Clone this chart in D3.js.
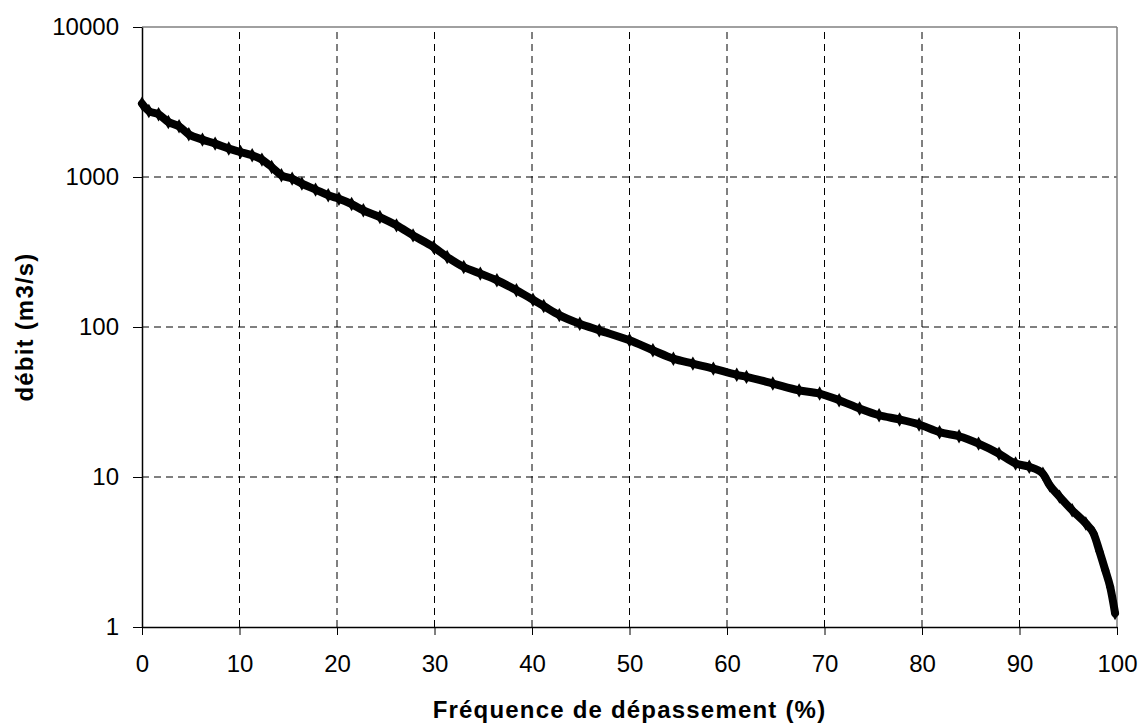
<!DOCTYPE html>
<html>
<head>
<meta charset="utf-8">
<script src="https://cdn.jsdelivr.net/npm/d3@7"></script>
<style>
  body { margin: 0; background: #fff; }
  svg { display: block; }
</style>
</head>
<body>
<svg width="1141" height="724"></svg>
<script>
// courbe des débits classés
const freq = [0, 0.7, 1.7, 2.7, 3.8, 4.8, 6.2, 7.5, 8.9, 10.1, 11.3, 12.3, 13.3, 14.3, 15.4,
  16.4, 17.8, 19.1, 20.2, 21.5, 22.7, 24.4, 26.1, 27.8, 29.9, 31.3, 33.0, 34.7, 36.4, 38.4,
  40.1, 41.2, 42.8, 44.9, 46.9, 50.0, 52.4, 54.5, 56.5, 58.6, 61.0, 62.0, 64.7, 67.4, 69.5,
  71.5, 73.6, 75.6, 77.7, 79.7, 81.8, 83.8, 85.8, 87.9, 89.6, 91.0, 92.4, 93.1, 94.1, 95.4,
  96.8, 97.6, 98.2, 98.8, 99.3, 99.8];
const debit = [3085, 2754, 2618, 2327, 2178, 1927, 1775, 1670, 1547, 1468, 1395, 1306, 1166, 1026, 975,
  903, 824, 755, 717, 660, 600, 541, 476, 408, 341, 293, 251, 227, 205, 176,
  152, 138, 120, 105, 95, 81.5, 70, 61.5, 57, 52.8, 48, 46.5, 42, 37.8, 36,
  32.5, 28.6, 25.8, 24.2, 22.4, 19.9, 18.7, 16.7, 14.3, 12.3, 11.7, 10.5, 8.8, 7.4, 6.0,
  4.9, 4.2, 3.2, 2.39, 1.85, 1.24];
const xTicks = [0, 10, 20, 30, 40, 50, 60, 70, 80, 90, 100];
const yTicks = [1, 10, 100, 1000, 10000];

const data = freq.map((f, i) => ({ f, q: debit[i] }));

const svg = d3.select('svg');
const margin = { left: 142, right: 24, top: 27, bottom: 97 };
const width = 1141, height = 724;

const x = d3.scaleLinear().domain([0, 100]).range([margin.left, width - margin.right]);
const y = d3.scaleLog().domain([1, 10000]).range([height - margin.bottom, margin.top]);

const font = 'Liberation Sans, Arial, sans-serif';

// grille
svg.append('g').selectAll('line').data(yTicks.slice(1, -1)).join('line')
  .attr('x1', x(0)).attr('x2', x(100))
  .attr('y1', d => y(d)).attr('y2', d => y(d))
  .attr('stroke', '#000').attr('stroke-width', 1).attr('stroke-dasharray', '7,5');
svg.append('g').selectAll('line').data(xTicks.slice(1, -1)).join('line')
  .attr('y1', y(1)).attr('y2', y(10000))
  .attr('x1', d => x(d)).attr('x2', d => x(d))
  .attr('stroke', '#000').attr('stroke-width', 1).attr('stroke-dasharray', '7,5');

// cadre haut / droite
svg.append('line').attr('x1', x(0)).attr('x2', x(100)).attr('y1', y(10000)).attr('y2', y(10000))
  .attr('stroke', '#808080').attr('stroke-width', 1.5);
svg.append('line').attr('x1', x(100)).attr('x2', x(100)).attr('y1', y(10000)).attr('y2', y(1))
  .attr('stroke', '#808080').attr('stroke-width', 1.5);

// axes
const xAxis = svg.append('g')
  .attr('transform', `translate(0,${y(1)})`)
  .call(d3.axisBottom(x).tickValues(xTicks).tickSize(8).tickPadding(20).tickSizeOuter(0));
const yAxis = svg.append('g')
  .attr('transform', `translate(${x(0)},0)`)
  .call(d3.axisLeft(y).tickValues(yTicks).tickFormat(d3.format('d')).tickSize(9).tickPadding(14).tickSizeOuter(0));

[xAxis, yAxis].forEach(g => {
  g.select('.domain').attr('stroke', '#000').attr('stroke-width', 1.5);
  g.selectAll('.tick line').attr('stroke', '#000');
  g.selectAll('text').attr('font-family', font).attr('font-size', 24).attr('fill', '#000');
});

// courbe
const line = d3.line().x(d => x(d.f)).y(d => y(d.q)).curve(d3.curveMonotoneX);
svg.append('path').datum(data).attr('d', line)
  .attr('fill', 'none').attr('stroke', '#000').attr('stroke-width', 8)
  .attr('stroke-linejoin', 'round').attr('stroke-linecap', 'round');
svg.append('g').selectAll('path').data(data).join('path')
  .attr('d', d3.symbol(d3.symbolDiamond, 60))
  .attr('transform', d => `translate(${x(d.f)},${y(d.q)})`)
  .attr('fill', '#000');

// titres
svg.append('text')
  .attr('x', (x(0) + x(100)) / 2).attr('y', 718)
  .attr('text-anchor', 'middle')
  .attr('font-family', font).attr('font-size', 24).attr('font-weight', 'bold')
  .attr('letter-spacing', 1.2)
  .text('Fréquence de dépassement (%)');
svg.append('text')
  .attr('transform', `translate(33,${(y(1) + y(10000)) / 2}) rotate(-90)`)
  .attr('text-anchor', 'middle')
  .attr('font-family', font).attr('font-size', 24).attr('font-weight', 'bold')
  .attr('letter-spacing', 1.2)
  .text('débit (m3/s)');
</script>
</body>
</html>
